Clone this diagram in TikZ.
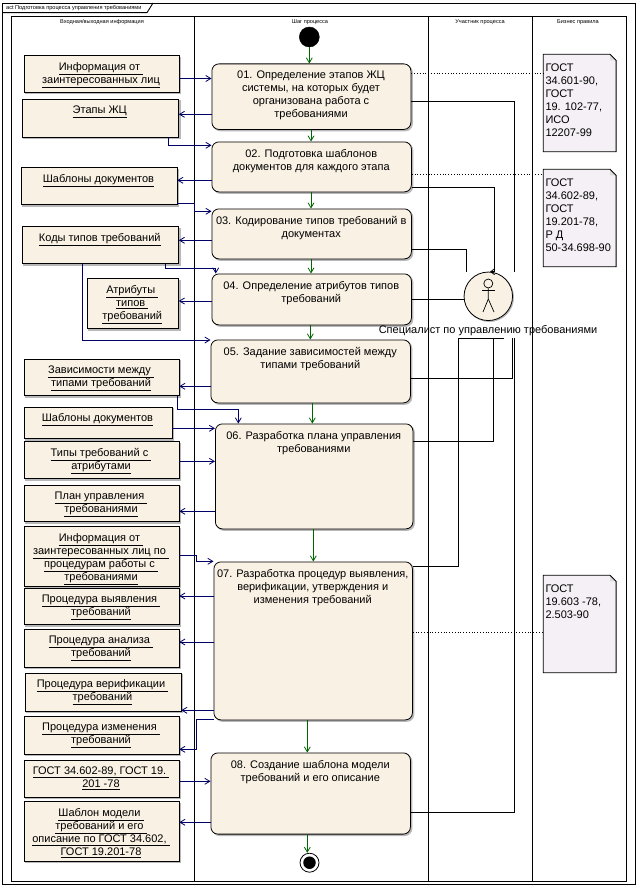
\documentclass[tikz,border=0pt]{standalone}
\usepackage{fontspec}
\setmainfont{Liberation Sans}
\usetikzlibrary{arrows.meta,calc}
\definecolor{cream}{HTML}{F9F1E4}
\definecolor{notefill}{HTML}{F5F0F5}
\definecolor{navyline}{HTML}{000066}
\definecolor{greenline}{HTML}{006600}
\definecolor{shadowgrey}{HTML}{B8B8B8}
\newcommand{\ul}[1]{\underline{#1}}
\tikzset{
  x=1pt,y=-1pt,
  frameline/.style={draw=black,line width=0.9pt},
  boxbase/.style={draw=black,line width=0.8pt,fill=cream,inner sep=0pt,anchor=north west,
    preaction={draw=shadowgrey,fill=shadowgrey,transform canvas={xshift=1.5pt,yshift=-1.5pt}}},
  objbox/.style={boxbase,rectangle},
  actbox/.style={boxbase,rectangle,rounded corners=7pt},
  notebox/.style={inner sep=0pt,anchor=north west,rectangle},
  body/.style={font=\fontsize{11}{13}\selectfont,align=center,inner sep=0pt,anchor=north},
  notetext/.style={font=\fontsize{11}{13}\selectfont,align=left,inner sep=0pt,anchor=north west},
  tiny/.style={font=\fontsize{5.6}{6.5}\selectfont,inner sep=0pt},
  flow/.style={draw=navyline,line width=0.8pt,-{Straight Barb[length=5pt,width=6pt]}},
  ctrl/.style={draw=greenline,line width=0.8pt,-{Straight Barb[length=5pt,width=6pt]}},
  assoc/.style={draw=black,line width=0.8pt},
  assocarrow/.style={draw=black,line width=0.8pt,-{Straight Barb[length=4pt,width=6pt]}},
  noteline/.style={draw=black,line width=0.8pt,dotted},
}
% name, x1, y1, x2, y2, text
\newcommand{\objnode}[6]{%
  \node[objbox,minimum width=#4pt-#2pt,minimum height=#5pt-#3pt] (#1) at (#2,#3) {};
  \node[body] (#1t) at ({(#2+#4)/2},#3+7) {#6};}
\newcommand{\actnode}[6]{%
  \node[actbox,minimum width=#4pt-#2pt,minimum height=#5pt-#3pt] (#1) at (#2,#3) {};
  \node[body] (#1t) at ({(#2+#4)/2},#3+7.3) {#6};}
% name, x1, y1, x2, y2, text
\newcommand{\notenode}[6]{%
  \node[notebox,minimum width=#4pt-#2pt,minimum height=#5pt-#3pt] (#1) at (#2,#3) {};
  \fill[notefill] (#1.north west) -- ($(#1.north east)+(-6,0)$) -- ($(#1.north east)+(0,6)$) -- (#1.south east) -- (#1.south west) -- cycle;
  \fill[shadowgrey!50] ($(#1.north east)+(-6,0)$) -- ($(#1.north east)+(-6,6)$) -- ($(#1.north east)+(0,6)$) -- cycle;
  \draw[assoc] (#1.north west) -- ($(#1.north east)+(-6,0)$) -- ($(#1.north east)+(0,6)$) -- (#1.south east) -- (#1.south west) -- cycle;
  \node[notetext] (#1t) at (#2+2,#3+9) {#6};}
\begin{document}
\begin{tikzpicture}
\useasboundingbox (0,0) rectangle (639,888);
\fill[white] (0,0) rectangle (639,888);
% frame
\draw[frameline] (2.7,3) rectangle (635,884.5);
\draw[frameline] (2.7,12.7) -- (147,12.7) -- (153,3);
\node[tiny,anchor=west] (title) at (6,8) {act Подготовка процесса управления требованиями};
% swimlanes
\draw[frameline] (11.5,16.5) rectangle (626,881);
\draw[frameline] (194.5,16.5) -- (194.5,881);
\draw[frameline] (428.5,16.5) -- (428.5,881);
\draw[frameline] (532.5,16.5) -- (532.5,881);
\node[tiny] (h1) at (102,22) {Входная/выходная информация};
\node[tiny] (h2) at (310,22) {Шаг процесса};
\node[tiny] (h3) at (480,22) {Участник процесса};
\node[tiny] (h4) at (578,22) {Бизнес правила};
\coordinate (a1) at (514.3,271.7);
\coordinate (a2) at (494.7,271.7);
\coordinate (a3) at (466.3,271.7);
\coordinate (a5) at (512.3,338.3);
\coordinate (a6) at (493.3,338.3);
\coordinate (a7) at (458.3,338.3);
\coordinate (a7e) at (504.3,338.3);
\coordinate (a8) at (514.3,338.3);
% objects
\objnode{info1}{23.5}{55.5}{178.5}{92}{\ul{Информация от\ }\\\ul{заинтересованных лиц}}
\objnode{etapy}{21.5}{99}{178}{136.5}{\ul{Этапы ЖЦ}}
\objnode{shabl}{20.5}{167}{176.5}{204}{\ul{Шаблоны документов}}
\objnode{kody}{21.5}{226}{178}{263}{\ul{Коды типов требований}}
\objnode{atr}{86.5}{278}{178}{328}{\ul{Атрибуты\ }\\\ul{типов\ }\\\ul{требований}}
\objnode{zav}{23.5}{358.5}{178.5}{395}{\ul{Зависимости между\ }\\\ul{типами требований}}
\objnode{shabb}{23.5}{406.5}{171.5}{438}{\ul{Шаблоны документов}}
\objnode{tipy}{23.5}{441}{178.5}{478}{\ul{Типы требований с\ }\\\ul{атрибутами}}
\objnode{plan}{23.5}{484.5}{178.5}{521}{\ul{План управления\ }\\\ul{требованиями}}
\objnode{info2}{23.5}{526}{178.5}{585.5}{\ul{Информация от\ }\\\ul{заинтересованных лиц по\ }\\\ul{процедурам работы с\ }\\\ul{требованиями}}
\objnode{pvy}{23.5}{587.5}{178.5}{624}{\ul{Процедура выявления\ }\\\ul{требований}}
\objnode{pan}{23.5}{629}{178.5}{666.5}{\ul{Процедура анализа\ }\\\ul{требований}}
\objnode{pve}{24.5}{672.5}{180.5}{710.5}{\ul{Процедура верификации\ }\\\ul{требований}}
\objnode{piz}{23.5}{716}{178.5}{753.5}{\ul{Процедура изменения\ }\\\ul{требований}}
\objnode{gost}{23.5}{759.5}{178.5}{796.5}{\ul{ГОСТ 34.602-89, ГОСТ 19.\ }\\\ul{201 -78}}
\objnode{shm}{23.5}{801}{178.5}{860.5}{\ul{Шаблон модели\ }\\\ul{требований и его\ }\\\ul{описание по ГОСТ 34.602,\ }\\\ul{ГОСТ 19.201-78}}
% activities
\actnode{s1}{211.5}{63.5}{410.5}{129}{01. Определение этапов ЖЦ\\системы, на которых будет\\организована работа с\\требованиями}
\actnode{s2}{211.5}{141.5}{411}{191.5}{02. Подготовка шаблонов\\документов для каждого этапа}
\actnode{s3}{211.5}{208.5}{411}{258.5}{03. Кодирование типов требований в\\документах}
\actnode{s4}{211.5}{273.5}{411}{324.5}{04. Определение атрибутов типов\\требований}
\actnode{s5}{210.5}{339.5}{410}{402.5}{05. Задание зависимостей между\\типами требований}
\actnode{s6}{215}{423.5}{412.5}{528.5}{06. Разработка плана управления\\требованиями}
\actnode{s7}{213.5}{561.5}{412}{719.5}{07. Разработка процедур выявления,\\верификации, утверждения и\\изменения требований}
\actnode{s8}{210.5}{752.5}{410}{833.7}{08. Создание шаблона модели\\требований и его описание}
% notes
\notenode{n1}{543.3}{54.3}{615.7}{151.3}{ГОСТ\\34.601-90,\\ГОСТ\\19. 102-77,\\ИСО\\12207-99}
\notenode{n2}{543.3}{169.3}{615.7}{266.3}{ГОСТ\\34.602-89,\\ГОСТ\\19.201-78,\\Р Д\\50-34.698-90}
\notenode{n3}{543.3}{575.3}{615.7}{672.3}{ГОСТ\\19.603 -78,\\2.503-90}
% start and end
\node[circle,fill=black,draw=black,minimum size=20pt,inner sep=0pt] (start) at (309.3,37) {};
\node[circle,draw=black,line width=0.8pt,fill=white,minimum size=19pt,inner sep=0pt] (stop) at (309.5,862.7) {};
\node[circle,fill=black,minimum size=12.5pt,inner sep=0pt] (stopin) at (309.5,862.7) {};
% actor
\node[circle,draw=black,line width=0.8pt,fill=cream,minimum size=48.5pt,inner sep=0pt,
  preaction={draw=shadowgrey,fill=shadowgrey,transform canvas={xshift=1pt,yshift=-1pt}}] (actor) at (488.3,296.3) {};
\node[circle,draw=black,line width=0.7pt,minimum size=9pt,inner sep=0pt] (head) at (488.3,283.5) {};
\draw[assoc,line width=0.7pt] (head.south) -- (488.3,299) -- (483,312);
\draw[assoc,line width=0.7pt] (488.3,299) -- (494,312);
\draw[assoc,line width=0.7pt] (482,290.5) -- (495,290.5);
\node[font=\fontsize{11}{13}\selectfont,inner sep=0pt] (actlabel) at (488,331) {Специалист по управлению требованиями};
% green control flow
\draw[ctrl] (start) -- (start |- s1.north);
\draw[ctrl] (s1.south -| 311,0) -- (s2.north -| 311,0);
\draw[ctrl] (s2.south -| 311,0) -- (s3.north -| 311,0);
\draw[ctrl] (s3.south -| 311,0) -- (s4.north -| 311,0);
\draw[ctrl] (s4.south -| 310.3,0) -- (s5.north -| 310.3,0);
\draw[ctrl] (s5.south -| 312.3,0) -- (s6.north -| 312.3,0);
\draw[ctrl] (s6.south -| 313.3,0) -- (s7.north -| 313.3,0);
\draw[ctrl] (s7.south -| 307.3,0) -- (s8.north -| 307.3,0);
\draw[ctrl] (s8.south -| 307.3,0) -- (stop.north -| 307.3,0);
% navy object flows
\draw[flow] (info1.east |- 0,78.5) -- (s1.west |- 0,78.5);
\draw[flow] (s1.west |- 0,114.3) -- (etapy.east |- 0,114.3);
\draw[flow] (etapy.south -| 168.3,0) |- (s2.west |- 0,145.3);
\draw[flow] (s2.west |- 0,180.3) -- (shabl.east |- 0,180.3);
\draw[flow] (shabl.east |- 0,203.3) -- (194.5,203.3) -- (194.5,211.3) -- (s3.west |- 0,211.3);
\draw[flow] (s3.west |- 0,240.3) -- (kody.east |- 0,240.3);
\draw[flow] (kody.south -| 165.3,0) -- (165.3,268.7) -- (215.7,268.7) -- (s4.north -| 215.7,0);
\draw[flow] (s4.west |- 0,301) -- (atr.east |- 0,301);
\draw[flow] (kody.south -| 82.3,0) |- (s5.west |- 0,340);
\draw[flow] (s5.west |- 0,386.3) -- (zav.east |- 0,386.3);
\draw[flow] (zav.south -| 177.3,0) -- (177.3,409.3) -- (238.3,409.3) -- (s6.north -| 238.3,0);
\draw[flow] (shabb.east |- 0,428.3) -- (s6.west |- 0,428.3);
\draw[flow] (tipy.east |- 0,461.3) -- (s6.west |- 0,461.3);
\draw[flow] (s6.west |- 0,511.3) -- (plan.east |- 0,511.3);
\draw[flow] (info2.east |- 0,555.3) -- (196.7,555.3) -- (196.7,561.3) -- (s7.west |- 0,561.3);
\draw[flow] (s7.west |- 0,596) -- (pvy.east |- 0,596);
\draw[flow] (s7.west |- 0,642) -- (pan.east |- 0,642);
\draw[flow] (s7.west |- 0,710.3) -- (pve.east |- 0,710.3);
\draw[flow] (s7.west |- 0,719.3) -- (196.3,719.3) -- (196.3,749.3) -- (piz.east |- 0,749.3);
\draw[flow] (gost.east |- 0,781.3) -- (s8.west |- 0,781.3);
\draw[flow] (s8.west |- 0,822.3) -- (shm.east |- 0,822.3);
% black associations
\draw[assoc] (s1.east |- 0,101) -| (a1);
\draw[assocarrow] (s2.east |- 0,187) -- (494.7,187) -- (a2) -- (490,271.7);
\draw[assoc] (s3.east |- 0,249) -| (a3);
\draw[assoc] (s4.east |- 0,299.3) -- (actor.west |- 0,299.3);
\draw[assoc] (s5.east |- 0,378.3) -| (a5);
\draw[assoc] (s6.east |- 0,441.3) -| (a6);
\draw[assoc] (s7.east |- 0,566) -| (a7) -- (a7e);
\draw[assoc] (s8.east |- 0,812.3) -| (a8);
% dotted note links
\draw[noteline] (s1.east |- 0,73) -- (n1.west |- 0,73);
\draw[noteline] (s2.east |- 0,174.3) -- (n2.west |- 0,174.3);
\draw[noteline] (s7.east |- 0,632.3) -- (n3.west |- 0,632.3);
\end{tikzpicture}
\end{document}
